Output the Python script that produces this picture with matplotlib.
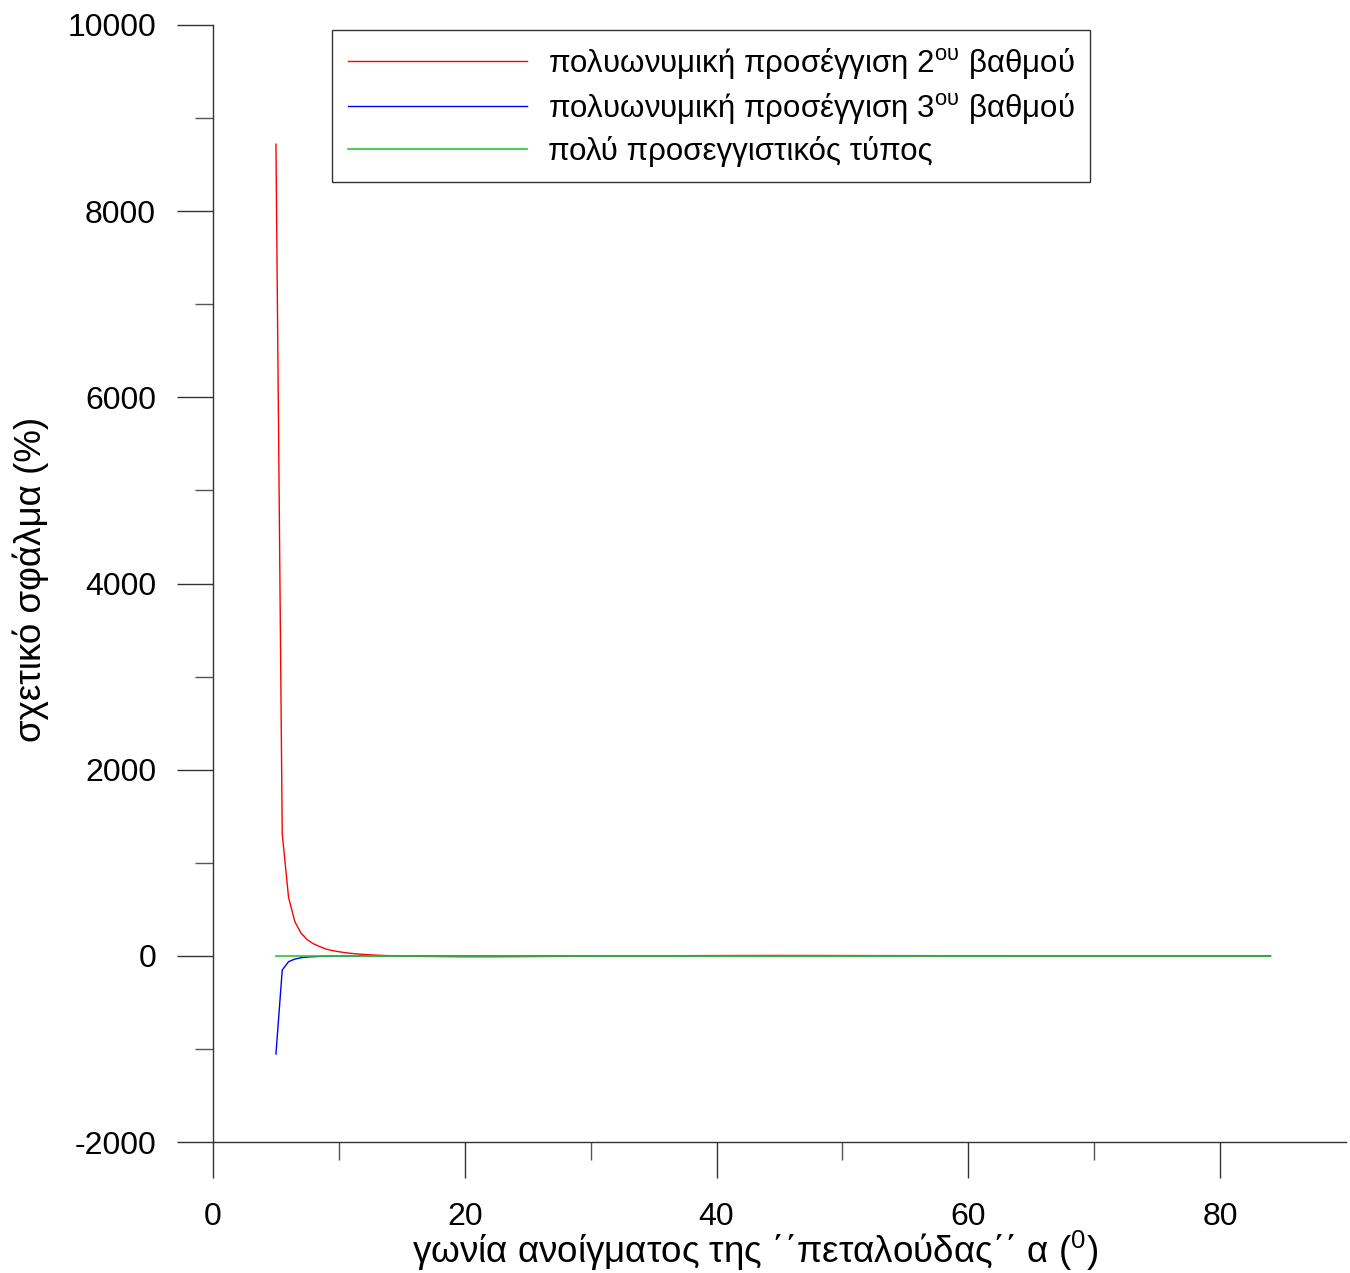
import matplotlib
matplotlib.use("Agg")
import matplotlib.pyplot as plt
from matplotlib.ticker import FixedLocator

plt.rcParams['font.family'] = ['Liberation Sans', 'DejaVu Sans']
plt.rcParams['mathtext.fontset'] = 'custom'
plt.rcParams['mathtext.rm'] = 'Liberation Sans'
plt.rcParams['mathtext.it'] = 'Liberation Sans'
plt.rcParams['axes.unicode_minus'] = False

# Relative error (%) versus butterfly opening angle a (degrees)
angle_quad = [5, 5.5, 6, 6.5, 7, 7.5, 8, 8.5, 9, 9.5, 10, 10.5, 11, 11.5, 12,
              12.5, 13, 13.5, 14, 15, 16, 18, 20, 22, 24, 26, 28, 30, 35, 40,
              45, 50, 55, 60, 70, 84]
err_quad = [8720, 1310, 630, 366, 242, 172, 128, 98, 72, 56, 44, 34, 26, 20, 15,
            11, 7, 4, 2, -2, -5, -8, -10, -10, -9, -7, -5, -3, 0, 3,
            4, 3, 2, 1, 0, 0]

angle_cubic = [5, 5.5, 6, 6.5, 7, 7.5, 8, 8.5, 9, 10, 12, 15, 20, 30, 40, 60, 84]
err_cubic = [-1055, -152, -63, -35, -20, -13, -9, -6, -4, -2, -1, 0, 0, 0, 0, 0, 0]

angle_approx = [5, 10, 20, 30, 40, 50, 60, 70, 84]
err_approx = [0, 0, 0, 0, 0, 0, 0, 0, 0]

labels = ['πολυωνυμική προσέγγιση 2$^{\\mathrm{ου}}$ βαθμού',
          'πολυωνυμική προσέγγιση 3$^{\\mathrm{ου}}$ βαθμού',
          'πολύ προσεγγιστικός τύπος']

x_major = [0, 20, 40, 60, 80]
x_minor = [10, 30, 50, 70]
y_major = [-2000, 0, 2000, 4000, 6000, 8000, 10000]
y_minor = [-1000, 1000, 3000, 5000, 7000, 9000]

W, H = 1350, 1273
fig = plt.figure(figsize=(W / 100, H / 100), dpi=100)
ax = fig.add_axes([213 / W, 1 - 1142 / H, (1346 - 213) / W, (1142 - 25) / H])

ax.plot(angle_quad, err_quad, color='#ff0000', lw=1.0, label=labels[0])
ax.plot(angle_cubic, err_cubic, color='#0000ff', lw=1.0, label=labels[1])
ax.plot(angle_approx, err_approx, color='#2ec42e', lw=1.2, label=labels[2])

ax.set_xlim(0, 90)
ax.set_ylim(-2000, 10000)
ax.xaxis.set_major_locator(FixedLocator(x_major))
ax.xaxis.set_minor_locator(FixedLocator(x_minor))
ax.yaxis.set_major_locator(FixedLocator(y_major))
ax.yaxis.set_minor_locator(FixedLocator(y_minor))

for s in ('top', 'right'):
    ax.spines[s].set_visible(False)
for s in ('left', 'bottom'):
    ax.spines[s].set_color('#333333')
    ax.spines[s].set_linewidth(1.0)

ax.tick_params(which='major', direction='out', length=26, width=1.0,
               color='#333333', labelsize=23, pad=15)
ax.tick_params(axis='x', which='major', pad=17)
ax.tick_params(which='minor', direction='out', length=13, width=1.0,
               color='#555555')

fig.text(755 / W, 1 - 1251 / H,
         'γωνία ανοίγματος της ΄΄πεταλούδας΄΄ α ($^{\\mathrm{0}}$)',
         fontsize=26.5, ha='center', va='center')
fig.text(31 / W, 1 - 579 / H, 'σχετικό σφάλμα (%)', fontsize=26.5,
         rotation=90, ha='center', va='center')

leg = ax.legend(loc='upper left', bbox_to_anchor=(332 / W, 1 - 30 / H),
                bbox_transform=fig.transFigure, fontsize=22.5, frameon=True,
                fancybox=False, edgecolor='black', handlelength=5.75,
                handletextpad=0.65, labelspacing=0.32, borderpad=0.5,
                borderaxespad=0)
leg.get_frame().set_linewidth(1.0)

fig.savefig('out.png', dpi=100, facecolor='white')
